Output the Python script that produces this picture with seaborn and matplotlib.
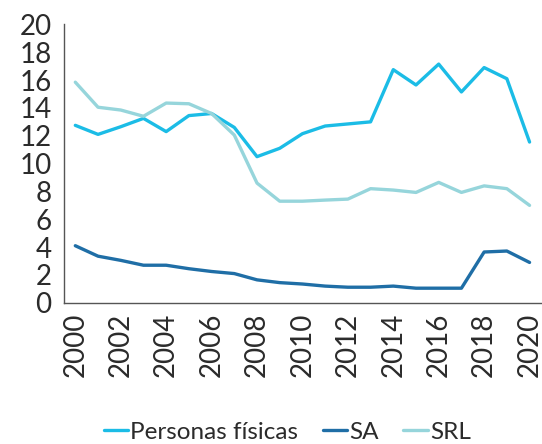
import pandas as pd
import matplotlib.pyplot as plt
import seaborn as sns
from matplotlib.ticker import MultipleLocator

# Data
years = list(range(2000, 2021))
personas_fisicas = [12.75, 12.1, 12.65, 13.25, 12.3, 13.45, 13.6, 12.6, 10.5, 11.1, 12.15,
                    12.7, 12.85, 13.0, 16.75, 15.65, 17.15, 15.15, 16.9, 16.1, 11.55]
sa = [4.1, 3.35, 3.05, 2.7, 2.7, 2.45, 2.25, 2.1, 1.65, 1.45, 1.35,
      1.2, 1.12, 1.12, 1.2, 1.05, 1.05, 1.05, 3.65, 3.72, 2.9]
srl = [15.85, 14.05, 13.85, 13.4, 14.35, 14.3, 13.6, 12.05, 8.6, 7.3, 7.3,
       7.38, 7.45, 8.2, 8.1, 7.93, 8.65, 7.93, 8.4, 8.2, 7.0]
series_names = ['Personas físicas', 'SA', 'SRL']
colors = ['#1bbce6', '#1f6ea6', '#96d5db']

df = pd.DataFrame({'year': years, 'Personas físicas': personas_fisicas, 'SA': sa, 'SRL': srl})
long_df = df.melt(id_vars='year', var_name='serie', value_name='valor')

sns.set_style("white")
plt.rcParams['font.family'] = ['Lato', 'DejaVu Sans']
plt.rcParams['text.color'] = '#2b2b2b'
plt.rcParams['xtick.color'] = '#2b2b2b'
plt.rcParams['ytick.color'] = '#2b2b2b'

fig = plt.figure(figsize=(5.42, 4.44), dpi=100)
ax = fig.add_axes([0.118, 0.318, 0.880, 0.627])

sns.lineplot(data=long_df, x='year', y='valor', hue='serie', hue_order=series_names,
             palette=colors, linewidth=2.4, ax=ax, legend=True)

ax.set_xlim(1999.5, 2020.5)
ax.set_ylim(0, 20)
ax.yaxis.set_major_locator(MultipleLocator(2))
ax.set_xticks(years[::2])
ax.set_xticklabels([str(y) for y in years[::2]], rotation=90)
ax.set_xticks([y - 0.5 for y in years] + [2020.5], minor=True)
ax.tick_params(axis='x', which='major', length=0, pad=7, labelsize=20)
ax.tick_params(axis='x', which='minor', length=6, width=1, color='#555555', direction='out')
ax.tick_params(axis='y', which='major', length=6, width=1, color='#555555', direction='out',
               labelsize=20, pad=3)
ax.set_xlabel('')
ax.set_ylabel('')
for s in ['top', 'right']:
    ax.spines[s].set_visible(False)
for s in ['left', 'bottom']:
    ax.spines[s].set_color('#555555')
    ax.spines[s].set_linewidth(1)

handles, labels = ax.get_legend_handles_labels()
ax.get_legend().remove()
fig.legend(handles, labels, loc='center', bbox_to_anchor=(0.53, 0.027), ncol=3,
           frameon=False, fontsize=17.5, handlelength=1.0, handletextpad=0.1,
           columnspacing=1.0, borderaxespad=0)

fig.savefig('out.png', dpi=100)
